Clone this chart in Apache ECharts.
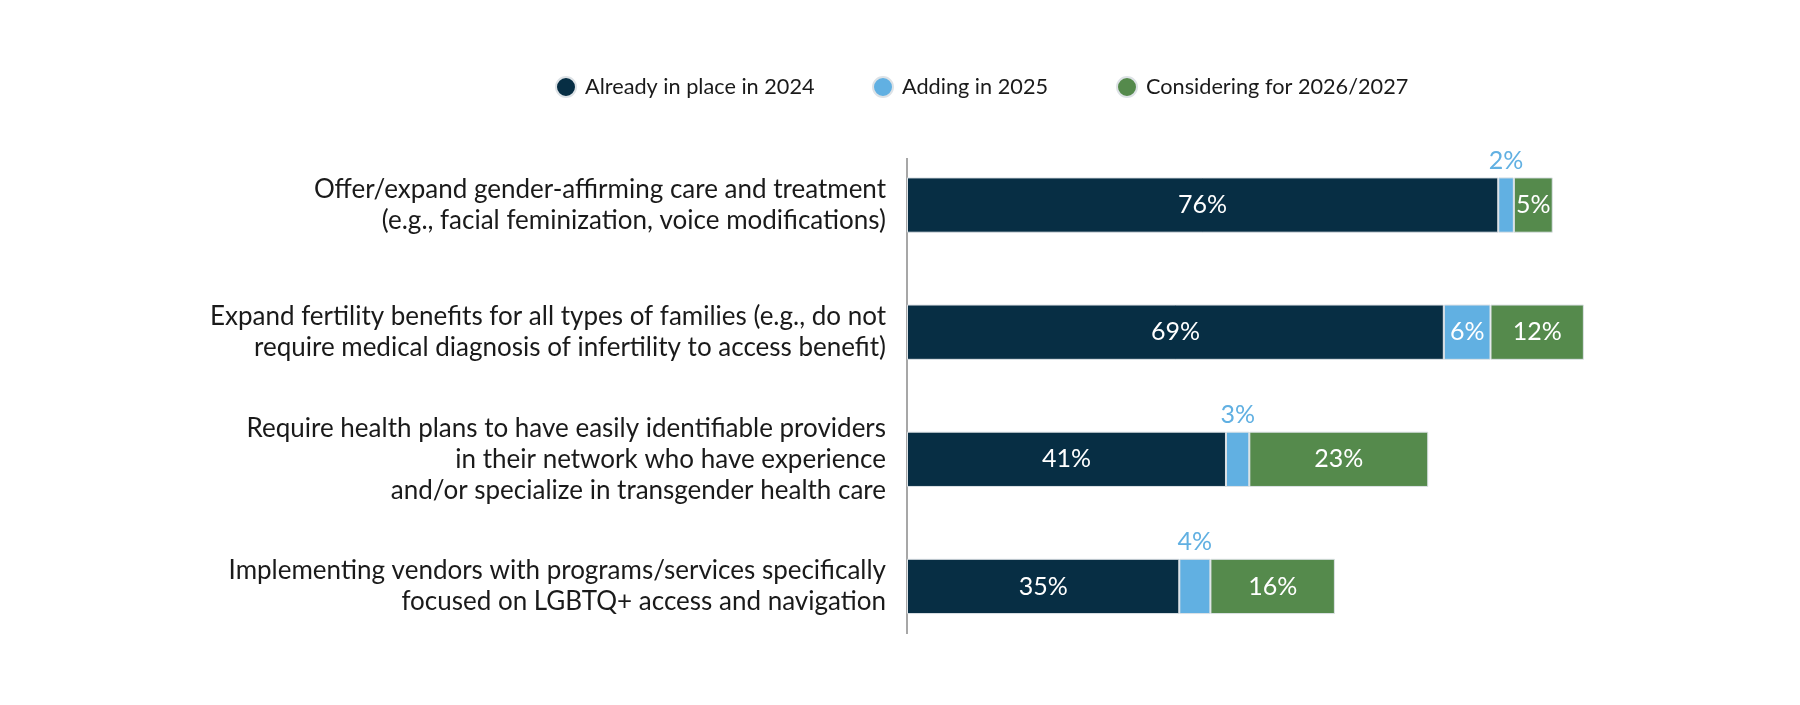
<!DOCTYPE html>
<html>
<head>
<meta charset="utf-8">
<script src="https://cdn.jsdelivr.net/npm/echarts@6/dist/echarts.min.js"></script>
<style>
  html, body { margin: 0; padding: 0; background: #fff; }
  #main { width: 1800px; height: 705px; }
</style>
</head>
<body>
<div id="main"></div>
<script>
const categories = [
  'Offer/expand gender-affirming care and treatment\n(e.g., facial feminization, voice modifications)',
  'Expand fertility benefits for all types of families (e.g., do not\nrequire medical diagnosis of infertility to access benefit)',
  'Require health plans to have easily identifiable providers\nin their network who have experience\nand/or specialize in transgender health care',
  'Implementing vendors with programs/services specifically\nfocused on LGBTQ+ access and navigation'
];
const seriesNames = ['Already in place in 2024', 'Adding in 2025', 'Considering for 2026/2027'];
const alreadyInPlace = [76, 69, 41, 35];
const adding2025 = [2, 6, 3, 4];
const considering = [5, 12, 23, 16];

const colors = ['#072e44', '#61b0e2', '#558a4c'];
const legendLeft = [550, 867, 1111];
const FONT = 'Lato';

// small segments get their label above the bar, in the segment colour
function toData(values, color) {
  return values.map(v => v < 5
    ? { value: v, label: { position: 'top', color: color, distance: 4 } }
    : v);
}

const chart = echarts.init(document.getElementById('main'));

const option = {
  backgroundColor: '#fff',
  textStyle: { fontFamily: FONT },
  // one legend per item so the uneven spacing of the original is kept
  legend: seriesNames.map((name, i) => ({
    data: [name],
    top: 71,
    left: legendLeft[i],
    icon: 'circle',
    itemWidth: 20,
    itemHeight: 20,
    selectedMode: false,
    textStyle: { fontFamily: FONT, fontSize: 21.7, color: '#1a1a1a', padding: [0, 0, 0, 4] }
  })),
  grid: { left: 907, right: 115, top: 141.5, bottom: 55, containLabel: false },
  xAxis: { type: 'value', min: 0, max: 100, show: false },
  yAxis: {
    type: 'category',
    data: categories,
    inverse: true,
    axisLine: { show: false },
    axisTick: { show: false },
    axisLabel: {
      margin: 21,
      align: 'right',
      fontFamily: FONT,
      fontSize: 26,
      lineHeight: 31,
      color: '#1a1a1a'
    }
  },
  graphic: [{
    type: 'line',
    shape: { x1: 907, y1: 158, x2: 907, y2: 634 },
    style: { stroke: '#8a8a8a', lineWidth: 1.5 }
  }],
  series: [alreadyInPlace, adding2025, considering].map((vals, i) => ({
    name: seriesNames[i],
    type: 'bar',
    stack: 'total',
    barWidth: '43.5%',
    itemStyle: { color: colors[i], borderColor: '#dde2e6', borderWidth: 1 },
    label: {
      show: true,
      position: 'inside',
      formatter: '{c}%',
      fontFamily: FONT,
      fontSize: 25,
      color: '#fff'
    },
    data: toData(vals, colors[i])
  }))
};

chart.setOption(option);
</script>
</body>
</html>
